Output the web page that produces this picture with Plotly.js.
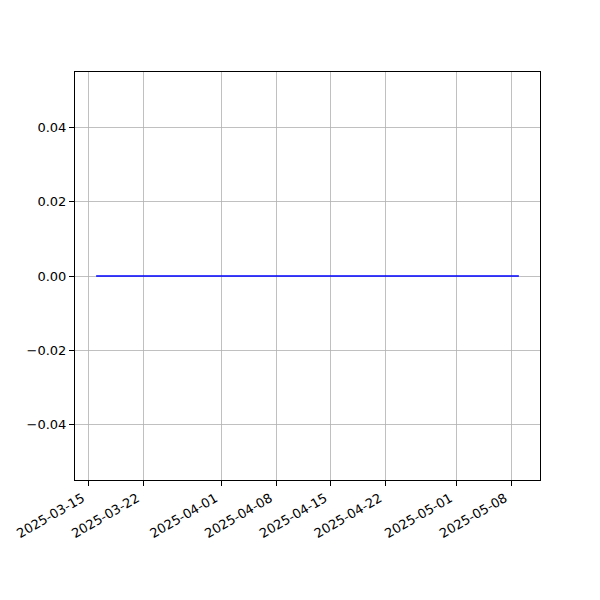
<!DOCTYPE html>
<html>
<head>
<meta charset="utf-8">
<script src="https://cdn.plot.ly/plotly-3.0.1.min.js"></script>
<style>html,body{margin:0;padding:0;background:#fff}#chart{width:600px;height:600px}</style>
</head>
<body>
<div id="chart"></div>
<script>
const dates = ["2025-03-16", "2025-05-09"];
const values = [0, 0];
const xTickVals = ["2025-03-15","2025-03-22","2025-04-01","2025-04-08","2025-04-15","2025-04-22","2025-05-01","2025-05-08"];
const xTickText = ["2025-03-15","2025-03-22","2025-04-01","2025-04-08","2025-04-15","2025-04-22","2025-05-01","2025-05-08"];
const yTickVals = [-0.04, -0.02, 0, 0.02, 0.04];

const trace = {
  x: dates, y: values, type: 'scatter', mode: 'lines',
  line: {color: '#0000ff', width: 1.5}, hoverinfo: 'skip'
};
const axisCommon = {
  showline: true, linecolor: '#000', linewidth: 1, mirror: true,
  ticks: 'outside', ticklen: 5, tickwidth: 1, tickcolor: '#000',
  showgrid: true, gridcolor: '#b0b0b0', gridwidth: 0.8,
  zeroline: false, tickfont: {family: 'DejaVu Sans', size: 13, color: '#000'}
};
const layout = {
  width: 600, height: 600,
  margin: {l: 75, r: 60, t: 72, b: 120},
  paper_bgcolor: '#fff', plot_bgcolor: '#fff',
  showlegend: false,
  xaxis: Object.assign({}, axisCommon, {
    type: 'date', range: ['2025-03-13 07:12', '2025-05-11 16:48'],
    tickmode: 'array', tickvals: xTickVals, ticktext: xTickText, tickangle: -30,
    ticklabelshift: -6
  }),
  yaxis: Object.assign({}, axisCommon, {
    range: [-0.055, 0.055], tickmode: 'array', tickvals: yTickVals, tickformat: '.2f'
  })
};
Plotly.newPlot('chart', [trace], layout, {staticPlot: true});
</script>
</body>
</html>
